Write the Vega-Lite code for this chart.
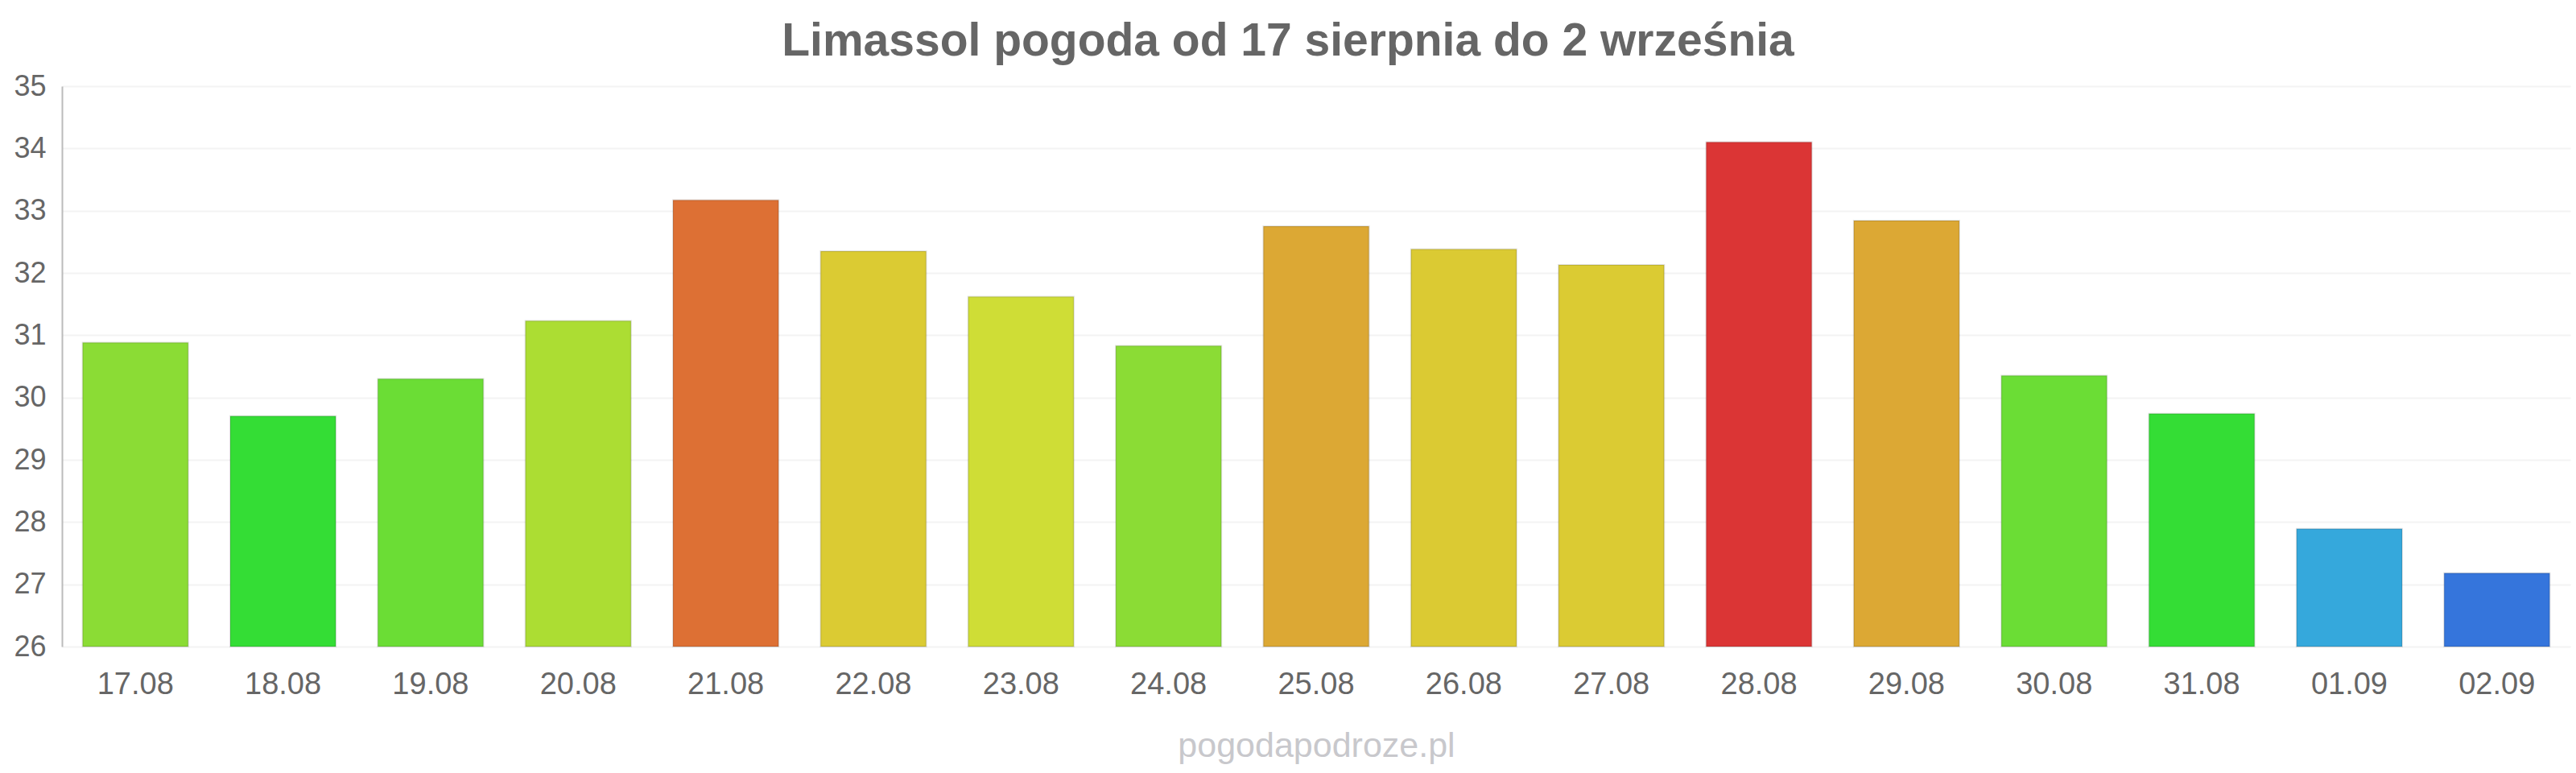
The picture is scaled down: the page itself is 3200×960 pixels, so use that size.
{
  "$schema": "https://vega.github.io/schema/vega-lite/v6.json",
  "width": 3116,
  "height": 696,
  "autosize": {"type": "none"},
  "padding": {"left": 77, "top": 107, "right": 7, "bottom": 157},
  "background": "#ffffff",
  "title": {
    "text": "Limassol pogoda od 17 sierpnia do 2 września",
    "frame": "group",
    "anchor": "middle",
    "baseline": "alphabetic",
    "offset": -37,
    "dx": -35,
    "font": "Liberation Sans",
    "fontSize": 57,
    "fontWeight": "bold",
    "color": "#666666"
  },
  "data": {
    "values": [
      {"day": "17.08", "temp": 30.88},
      {"day": "18.08", "temp": 29.70},
      {"day": "19.08", "temp": 30.30},
      {"day": "20.08", "temp": 31.23},
      {"day": "21.08", "temp": 33.17},
      {"day": "22.08", "temp": 32.35},
      {"day": "23.08", "temp": 31.62},
      {"day": "24.08", "temp": 30.83},
      {"day": "25.08", "temp": 32.75},
      {"day": "26.08", "temp": 32.38},
      {"day": "27.08", "temp": 32.13},
      {"day": "28.08", "temp": 34.10},
      {"day": "29.08", "temp": 32.84},
      {"day": "30.08", "temp": 30.35},
      {"day": "31.08", "temp": 29.74},
      {"day": "01.09", "temp": 27.89},
      {"day": "02.09", "temp": 27.18}
    ]
  },
  "mark": {
    "type": "bar",
    "stroke": "#000000",
    "strokeOpacity": 0.12,
    "strokeWidth": 2
  },
  "encoding": {
    "x": {
      "field": "day",
      "type": "ordinal",
      "sort": null,
      "scale": {"paddingInner": 0.285, "paddingOuter": 0.14},
      "axis": {
        "title": "pogodapodroze.pl",
        "titleFont": "Liberation Sans",
        "titleFontSize": 43,
        "titleFontWeight": "normal",
        "titleColor": "#c8c8cc",
        "titlePadding": 36,
        "labelFont": "Liberation Sans",
        "labelFontSize": 38,
        "labelColor": "#666666",
        "labelAngle": 0,
        "labelPadding": 28,
        "ticks": false,
        "domain": false,
        "grid": false
      }
    },
    "y": {
      "field": "temp",
      "type": "quantitative",
      "scale": {"domain": [26, 35], "nice": false, "zero": false},
      "axis": {
        "title": null,
        "values": [26, 27, 28, 29, 30, 31, 32, 33, 34, 35],
        "labelFont": "Liberation Sans",
        "labelFontSize": 36,
        "labelColor": "#666666",
        "labelPadding": 20,
        "ticks": false,
        "domainColor": "#bbbbbb",
        "domainWidth": 2,
        "gridColor": "#f3f3f3",
        "gridWidth": 2
      }
    },
    "y2": {"datum": 26},
    "color": {
      "field": "day",
      "type": "ordinal",
      "sort": null,
      "legend": null,
      "scale": {
        "domain": ["17.08", "18.08", "19.08", "20.08", "21.08", "22.08", "23.08", "24.08", "25.08", "26.08", "27.08", "28.08", "29.08", "30.08", "31.08", "01.09", "02.09"],
        "range": ["#8bdc35", "#34dd35", "#6bdd35", "#acdd33", "#dd7034", "#dbcb33", "#cfdd36", "#8bdc35", "#dca834", "#dbca33", "#dbcb33", "#db3535", "#dca834", "#6bdd35", "#34dd35", "#35a8dc", "#3575dc"]
      }
    }
  },
  "config": {
    "view": {"stroke": null},
    "font": "Liberation Sans"
  }
}
